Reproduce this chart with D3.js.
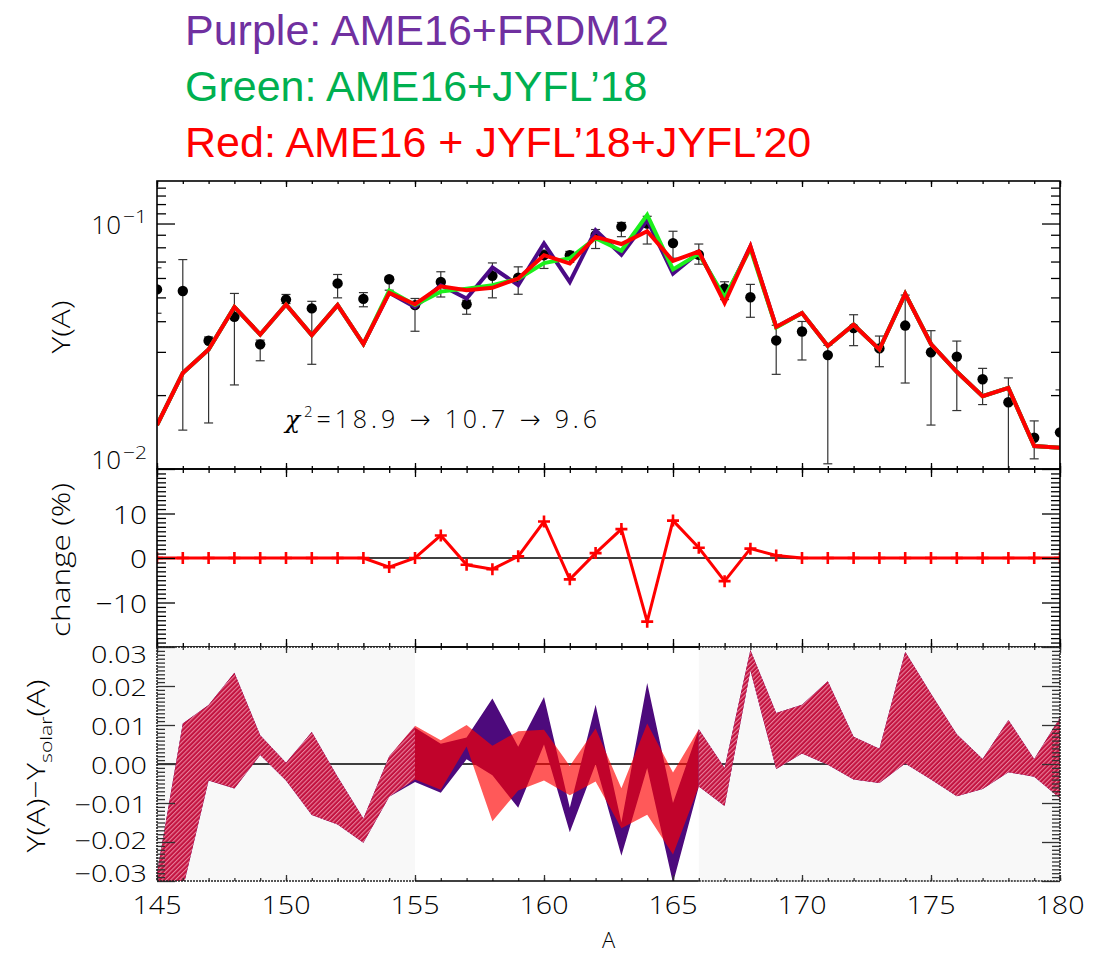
<!DOCTYPE html>
<html><head><meta charset="utf-8">
<script src="https://cdn.jsdelivr.net/npm/d3@7"></script>
<style>body{margin:0;background:#fff}svg{display:block}</style>
</head><body><svg id="c" width="1110" height="955"></svg>
<script>
// ---------------- data ----------------
const massA = [145,146,147,148,149,150,151,152,153,154,155,156,157,158,159,160,161,162,163,164,165,166,167,168,169,170,171,172,173,174,175,176,177,178,179,180];
const solarY  = [0.0539,0.0531,0.0333,0.0417,0.0322,0.0490,0.0451,0.0570,0.0493,0.0593,0.0465,0.0578,0.0469,0.0612,0.0601,0.0743,0.0743,0.0896,0.0971,0.1000,0.0832,0.0746,0.0544,0.0501,0.0334,0.0363,0.0291,0.0375,0.0310,0.0384,0.0299,0.0287,0.0232,0.0187,0.0134,0.0141];
const solarLo = [0.0431,0.0144,0.0154,0.0220,0.0276,0.0472,0.0267,0.0498,0.0458,0.0535,0.0364,0.0502,0.0427,0.0498,0.0515,0.0656,0.0695,0.0791,0.0884,0.0825,0.0722,0.0683,0.0490,0.0415,0.0243,0.0278,0.0105,0.0318,0.0261,0.0224,0.0151,0.0173,0.0183,0.0100,0.0110,0.0050];
const solarHi = [0.0660,0.0713,0.0345,0.0519,0.0335,0.0514,0.0482,0.0620,0.0523,0.0606,0.0495,0.0636,0.0487,0.0691,0.0666,0.0779,0.0770,0.0945,0.1010,0.1070,0.0930,0.0825,0.0579,0.0565,0.0385,0.0399,0.0319,0.0425,0.0348,0.0511,0.0366,0.0332,0.0257,0.0235,0.0157,0.0210];
const yPurple = [0.0151,0.0246,0.0307,0.0457,0.0353,0.0468,0.0351,0.0465,0.0323,0.0522,0.0457,0.0560,0.0495,0.0662,0.0561,0.0829,0.0578,0.0939,0.0746,0.1034,0.0625,0.0762,0.0490,0.0807,0.0379,0.0432,0.0317,0.0387,0.0307,0.0517,0.0323,0.0249,0.0198,0.0214,0.0124,0.0122];
const yGreen  = [0.0151,0.0246,0.0307,0.0457,0.0353,0.0468,0.0351,0.0465,0.0323,0.0533,0.0466,0.0528,0.0543,0.0561,0.0595,0.0690,0.0722,0.0872,0.0775,0.1085,0.0650,0.0752,0.0501,0.0790,0.0377,0.0432,0.0317,0.0387,0.0307,0.0517,0.0323,0.0249,0.0198,0.0214,0.0124,0.0122];
const yRed    = [0.0151,0.0246,0.0307,0.0457,0.0353,0.0468,0.0351,0.0465,0.0323,0.0522,0.0469,0.0555,0.0535,0.0547,0.0597,0.0743,0.0687,0.0882,0.0825,0.0930,0.0704,0.0769,0.0475,0.0807,0.0379,0.0432,0.0317,0.0387,0.0307,0.0517,0.0323,0.0249,0.0198,0.0214,0.0124,0.0122];
const changePct = [0,0,0,0,0,0,0,0,0,-2.05,0,5.07,-1.52,-2.5,0.37,8.2,-4.8,1.1,6.5,-14.3,8.4,2.3,-5.2,2.1,0.57,0,0,0,0,0,0,0,0,0,0,0];
const bandPurpleLo = [-0.070,-0.032,-0.0042,-0.0063,0.0023,-0.0042,-0.0131,-0.0155,-0.0202,-0.0084,-0.0046,-0.0074,0.0012,-0.0029,-0.0112,0.0050,-0.0175,0.0000,-0.0235,-0.0010,-0.0305,-0.0058,-0.0108,0.0240,-0.0013,0.0027,-0.0002,-0.0040,-0.0049,0.0001,-0.0040,-0.0083,-0.0064,-0.0021,-0.0033,-0.0088];
const bandPurpleHi = [-0.028,0.0104,0.0151,0.0234,0.0074,0.0003,0.0082,-0.0033,-0.0140,0.0020,0.0093,0.0052,0.0068,0.0168,0.0044,0.0172,-0.0112,0.0152,-0.0150,0.0208,-0.0100,0.0089,-0.0010,0.0292,0.0131,0.0152,0.0212,0.0070,0.0039,0.0288,0.0180,0.0076,0.0013,0.0113,0.0013,0.0119];
const bandRedLo = [-0.070,-0.032,-0.0042,-0.0063,0.0023,-0.0042,-0.0131,-0.0155,-0.0202,-0.0084,-0.0040,-0.0066,0.0045,-0.0147,-0.0068,-0.0042,-0.0080,-0.0045,-0.0165,-0.0130,-0.0232,-0.0058,-0.0108,0.0240,-0.0013,0.0027,-0.0002,-0.0040,-0.0049,0.0001,-0.0040,-0.0083,-0.0064,-0.0021,-0.0033,-0.0088];
const bandRedHi = [-0.028,0.0104,0.0151,0.0234,0.0074,0.0003,0.0082,-0.0033,-0.0140,0.0020,0.0098,0.0061,0.0100,0.0047,0.0084,0.0088,-0.0005,0.0091,-0.0062,0.0104,-0.0022,0.0089,-0.0010,0.0292,0.0131,0.0152,0.0212,0.0070,0.0039,0.0288,0.0180,0.0076,0.0013,0.0113,0.0013,0.0119];
const updatedRange = [155,166];
const xTickVals = [145,150,155,160,165,170,175,180];
const topTickVals = [0.01,0.1];
const topTickExp = ["−2","−1"];
const midTickVals = [-10,0,10];
const botTickVals = [-0.03,-0.02,-0.01,0,0.01,0.02,0.03];
const titleLines = ["Purple: AME16+FRDM12","Green: AME16+JYFL’18","Red: AME16 + JYFL’18+JYFL’20"];
const titleColors = ["#7030a0","#00b050","#ff0000"];
const chiValues = ["18.9","10.7","9.6"];

// ---------------- layout ----------------
const svg = d3.select("#c");
const L = 157, R = 1060;
const T1 = 181, B1 = 469, T2 = 469, B2 = 647, T3 = 647, B3 = 881;
const x = d3.scaleLinear().domain([145,180]).range([L,R]);
const y1 = d3.scaleLog().domain([0.01,0.149]).range([B1,T1]);
const y2 = d3.scaleLinear().domain([-20,20]).range([B2,T2]);
const y3 = d3.scaleLinear().domain([-0.03,0.03]).range([B3,T3]);
const tickFont = "'Open Sans', 'DejaVu Sans', sans-serif";
const data = massA.map((a,i)=>({a, s:solarY[i], lo:solarLo[i], hi:solarHi[i], p:yPurple[i], g:yGreen[i], r:yRed[i], c:changePct[i],
  pl:bandPurpleLo[i], ph:bandPurpleHi[i], rl:bandRedLo[i], rh:bandRedHi[i]}));
function widen(sel, f){ sel.each(function(){ const w=this.getComputedTextLength(); d3.select(this).attr("textLength", w*f).attr("lengthAdjust","spacingAndGlyphs"); }); }

const defs = svg.append("defs");
defs.append("clipPath").attr("id","clip1").append("rect").attr("x",L).attr("y",T1).attr("width",R-L).attr("height",B1-T1);
defs.append("clipPath").attr("id","clip2").append("rect").attr("x",L).attr("y",T2).attr("width",R-L).attr("height",B2-T2);
defs.append("clipPath").attr("id","clipIn").append("rect").attr("x",x(updatedRange[0])).attr("y",T3).attr("width",x(updatedRange[1])-x(updatedRange[0])).attr("height",B3-T3);
const co = defs.append("clipPath").attr("id","clipOut");
co.append("rect").attr("x",L).attr("y",T3).attr("width",x(updatedRange[0])-L).attr("height",B3-T3);
co.append("rect").attr("x",x(updatedRange[1])).attr("y",T3).attr("width",R-x(updatedRange[1])).attr("height",B3-T3);
const pat = defs.append("pattern").attr("id","hatch").attr("patternUnits","userSpaceOnUse")
  .attr("width",3.2).attr("height",3.2).attr("patternTransform","rotate(45)");
pat.append("rect").attr("width",3.2).attr("height",3.2).attr("fill","#c2123f");
pat.append("rect").attr("width",1.1).attr("height",3.2).attr("fill","#e9809c");

// ---------------- titles ----------------
svg.selectAll("text.title").data(titleLines).enter().append("text")
  .attr("x",185).attr("y",(d,i)=>45+i*56)
  .attr("fill",(d,i)=>titleColors[i])
  .style("font-family","'Liberation Sans', Arial, sans-serif").style("font-size","43px")
  .text(d=>d);

// ---------------- axes helper ----------------
function xTicks(g, yTop, yBot, majorLen, minorLen){
  const minor = massA;
  g.append("g").attr("transform",`translate(0,${yTop})`).call(d3.axisTop(x).tickValues(minor).tickSize(-minorLen).tickFormat("")).call(s=>s.select(".domain").remove());
  g.append("g").attr("transform",`translate(0,${yTop})`).call(d3.axisTop(x).tickValues(xTickVals).tickSize(-majorLen).tickFormat("")).call(s=>s.select(".domain").remove());
  g.append("g").attr("transform",`translate(0,${yBot})`).call(d3.axisBottom(x).tickValues(minor).tickSize(-minorLen).tickFormat("")).call(s=>s.select(".domain").remove());
  g.append("g").attr("transform",`translate(0,${yBot})`).call(d3.axisBottom(x).tickValues(xTickVals).tickSize(-majorLen).tickFormat("")).call(s=>s.select(".domain").remove());
}
function yTicks(g, scale, vals, len){
  g.append("g").attr("transform",`translate(${L},0)`).call(d3.axisLeft(scale).tickValues(vals).tickSize(-len).tickFormat("")).call(s=>s.select(".domain").remove());
  g.append("g").attr("transform",`translate(${R},0)`).call(d3.axisRight(scale).tickValues(vals).tickSize(-len).tickFormat("")).call(s=>s.select(".domain").remove());
}
function tickText(sel, size){ return sel.style("font-family",tickFont).style("font-size",(size||26)+"px").style("font-weight",300); }

// ---------------- panel 1 ----------------
const p1 = svg.append("g");
const p1c = p1.append("g").attr("clip-path","url(#clip1)");
const eb = p1c.selectAll("g.eb").data(data).enter().append("g").attr("stroke","#333").attr("stroke-width",1.2);
eb.append("line").attr("x1",d=>x(d.a)).attr("x2",d=>x(d.a)).attr("y1",d=>y1(d.lo)).attr("y2",d=>y1(d.hi));
eb.append("line").attr("x1",d=>x(d.a)-4.5).attr("x2",d=>x(d.a)+4.5).attr("y1",d=>y1(d.lo)).attr("y2",d=>y1(d.lo));
eb.append("line").attr("x1",d=>x(d.a)-4.5).attr("x2",d=>x(d.a)+4.5).attr("y1",d=>y1(d.hi)).attr("y2",d=>y1(d.hi));
p1c.selectAll("circle").data(data).enter().append("circle").attr("cx",d=>x(d.a)).attr("cy",d=>y1(d.s)).attr("r",5.2).attr("fill","#000");
const lineP = d3.line().x(d=>x(d.a)).y(d=>y1(d.p));
const lineG = d3.line().x(d=>x(d.a)).y(d=>y1(d.g));
const lineR = d3.line().x(d=>x(d.a)).y(d=>y1(d.r));
p1c.append("path").datum(data).attr("d",lineP).attr("fill","none").attr("stroke","#4b0a86").attr("stroke-width",4);
p1c.append("path").datum(data).attr("d",lineG).attr("fill","none").attr("stroke","#1cf01c").attr("stroke-width",4);
p1c.append("path").datum(data).attr("d",lineR).attr("fill","none").attr("stroke","#ff0000").attr("stroke-width",4);
const p1t = p1.append("g").attr("stroke-width",1.3);
xTicks(p1t, T1, B1, 6, 3);
yTicks(p1t, y1, topTickVals, 18);
yTicks(p1t, y1, [0.02,0.03,0.04,0.05,0.06,0.07,0.08,0.09,0.11,0.12,0.13,0.14], 9);
p1.append("rect").attr("x",L).attr("y",T1).attr("width",R-L).attr("height",B1-T1).attr("fill","none").attr("stroke","#000").attr("stroke-width",1.6);
tickText(p1.selectAll("text.t1").data(topTickVals).enter().append("text")
  .attr("x",121).attr("y",(d,i)=> i===0 ? y1(d) : y1(d)+10).attr("text-anchor","end").text("10"));
p1.selectAll("text.t1e").data(topTickVals).enter().append("text")
  .attr("x",123).attr("y",(d,i)=> i===0 ? y1(d)-10 : y1(d)-1)
  .style("font-family",tickFont).style("font-size","18px").style("font-weight",300).text((d,i)=>topTickExp[i])
  .attr("textLength",24).attr("lengthAdjust","spacingAndGlyphs");
// chi^2
const chi = p1.append("text").attr("x",285).attr("y",428).style("font-family",tickFont).style("font-size","25px").style("font-weight",300)
  .attr("textLength",312).attr("lengthAdjust","spacing");
chi.append("tspan").style("font-family","'DejaVu Serif', serif").style("font-style","italic").text("χ");
chi.append("tspan").attr("dy",-11).style("font-size","15px").text("2");
chi.append("tspan").attr("dy",11).text(`=${chiValues[0]}  →  ${chiValues[1]}  →  ${chiValues[2]}`);
p1.append("text").attr("transform","translate(70,327) rotate(-90)").attr("text-anchor","middle")
  .style("font-family",tickFont).style("font-size","26px").style("font-weight",300).text("Y(A)")
  .attr("textLength",53).attr("lengthAdjust","spacingAndGlyphs");

// ---------------- panel 2 ----------------
const p2 = svg.append("g");
p2.append("line").attr("x1",L).attr("x2",R).attr("y1",y2(0)).attr("y2",y2(0)).attr("stroke","#000").attr("stroke-width",1.5);
const p2c = p2.append("g").attr("clip-path","url(#clip2)");
p2c.append("path").datum(data).attr("d",d3.line().x(d=>x(d.a)).y(d=>y2(d.c))).attr("fill","none").attr("stroke","#ff0000").attr("stroke-width",3);
p2c.selectAll("path.mk").data(data).enter().append("path")
  .attr("d",d=>`M${x(d.a)-6},${y2(d.c)}H${x(d.a)+6}M${x(d.a)},${y2(d.c)-6}V${y2(d.c)+6}`)
  .attr("stroke","#ff0000").attr("stroke-width",2.6);
const p2t = p2.append("g").attr("stroke-width",1.3);
xTicks(p2t, T2, B2, 8, 4);
yTicks(p2t, y2, midTickVals, 18);
yTicks(p2t, y2, [-19,-18,-17,-16,-15,-14,-13,-12,-11,-9,-8,-7,-6,-5,-4,-3,-2,-1,1,2,3,4,5,6,7,8,9,11,12,13,14,15,16,17,18,19], 9);
p2.append("rect").attr("x",L).attr("y",T2).attr("width",R-L).attr("height",B2-T2).attr("fill","none").attr("stroke","#000").attr("stroke-width",1.6);
const t2 = tickText(p2.selectAll("text.t2").data(midTickVals).enter().append("text")
  .attr("x",147).attr("y",d=>y2(d)+10).attr("text-anchor","end").text(d=>d<0?"−"+Math.abs(d):d));
widen(t2, 1.15);
p2.append("text").attr("transform","translate(70,560) rotate(-90)").attr("text-anchor","middle")
  .style("font-family",tickFont).style("font-size","26px").style("font-weight",300).text("change (%)")
  .attr("textLength",154).attr("lengthAdjust","spacingAndGlyphs");

// ---------------- panel 3 ----------------
const p3 = svg.append("g");
p3.append("rect").attr("x",L).attr("y",T3).attr("width",x(updatedRange[0])-L).attr("height",B3-T3).attr("fill","#f8f8f8");
p3.append("rect").attr("x",x(updatedRange[1])).attr("y",T3).attr("width",R-x(updatedRange[1])).attr("height",B3-T3).attr("fill","#f8f8f8");
p3.append("line").attr("x1",L).attr("x2",R).attr("y1",y3(0)).attr("y2",y3(0)).attr("stroke","#000").attr("stroke-width",1.5);
const areaP = d3.area().x(d=>x(d.a)).y0(d=>y3(d.pl)).y1(d=>y3(d.ph));
const areaR = d3.area().x(d=>x(d.a)).y0(d=>y3(d.rl)).y1(d=>y3(d.rh));
const inG = p3.append("g").attr("clip-path","url(#clipIn)");
inG.append("path").datum(data).attr("d",areaP).attr("fill","#4d0a7c");
inG.append("path").datum(data).attr("d",areaR).attr("fill","#ff0000").attr("fill-opacity",0.65);
const outG = p3.append("g").attr("clip-path","url(#clipOut)");
outG.append("path").datum(data).attr("d",areaP).attr("fill","#4d0a7c");
outG.append("path").datum(data).attr("d",areaR).attr("fill","url(#hatch)");
const p3t = p3.append("g").attr("stroke-width",1.3);
xTicks(p3t, T3, B3, 6, 3);
yTicks(p3t, y3, botTickVals, 18);
yTicks(p3t, y3, [-0.029,-0.028,-0.027,-0.026,-0.025,-0.024,-0.023,-0.022,-0.021,-0.019,-0.018,-0.017,-0.016,-0.015,-0.014,-0.013,-0.012,-0.011,-0.009,-0.008,-0.007,-0.006,-0.005,-0.004,-0.003,-0.002,-0.001,0.001,0.002,0.003,0.004,0.005,0.006,0.007,0.008,0.009,0.011,0.012,0.013,0.014,0.015,0.016,0.017,0.018,0.019,0.021,0.022,0.023,0.024,0.025,0.026,0.027,0.028,0.029], 8);
p3t.selectAll("line").attr("stroke","#333");
const fr = p3.append("g").attr("fill","none");
fr.append("line").attr("x1",x(updatedRange[0])).attr("x2",x(updatedRange[1])).attr("y1",T3).attr("y2",T3).attr("stroke","#000").attr("stroke-width",1.6);
fr.append("line").attr("x1",x(updatedRange[0])).attr("x2",x(updatedRange[1])).attr("y1",B3).attr("y2",B3).attr("stroke","#000").attr("stroke-width",1.6);
[[L,x(updatedRange[0])],[x(updatedRange[1]),R]].forEach(([a,b])=>{
  [T3,B3].forEach(yy=>fr.append("line").attr("x1",a).attr("x2",b).attr("y1",yy).attr("y2",yy).attr("stroke","#222").attr("stroke-width",1.6).attr("stroke-dasharray","2,1"));
});
[L,R].forEach(xx=>fr.append("line").attr("x1",xx).attr("x2",xx).attr("y1",T3).attr("y2",B3).attr("stroke","#222").attr("stroke-width",1.6).attr("stroke-dasharray","2,1"));
const t3 = tickText(p3.selectAll("text.t3").data(botTickVals).enter().append("text")
  .attr("x",147).attr("y",d=> d===0.03 ? y3(d)+16 : d===-0.03 ? y3(d)+1 : d===-0.02 ? y3(d)+7 : y3(d)+10).attr("text-anchor","end")
  .text(d=>(d<0?"−":"")+Math.abs(d).toFixed(2)), 23);
widen(t3, 1.25);
const yl3 = p3.append("text").attr("transform","translate(45,766) rotate(-90)").attr("text-anchor","middle")
  .style("font-family",tickFont).style("font-size","26px").style("font-weight",300)
  .attr("textLength",173).attr("lengthAdjust","spacingAndGlyphs");
yl3.append("tspan").text("Y(A)−Y");
yl3.append("tspan").attr("dy",7).style("font-size","17px").text("solar");
yl3.append("tspan").attr("dy",-7).text("(A)");
// x labels
const xt = tickText(svg.selectAll("text.xt").data(xTickVals).enter().append("text")
  .attr("x",d=>x(d)).attr("y",914).attr("text-anchor","middle").text(d=>d));
widen(xt, 1.1);
svg.append("text").attr("x",(L+R)/2).attr("y",948).attr("text-anchor","middle")
  .style("font-family",tickFont).style("font-size","22px").style("font-weight",300).text("A");
</script></body></html>
